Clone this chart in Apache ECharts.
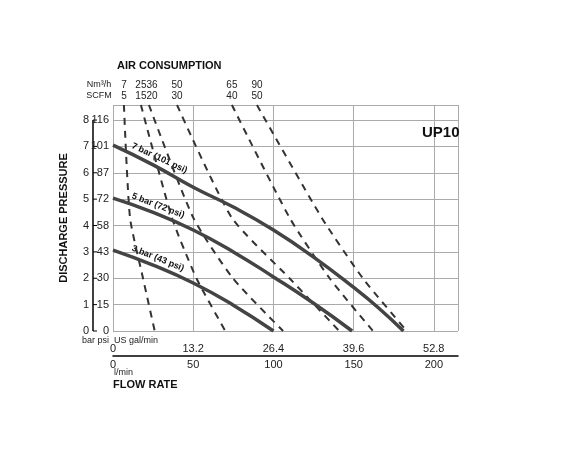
<!DOCTYPE html>
<html><head><meta charset="utf-8">
<script src="https://cdn.jsdelivr.net/npm/echarts@6/dist/echarts.min.js"></script>
<style>html,body{margin:0;padding:0;background:#fff}#c{width:573px;height:461px}</style>
</head><body><div id="c"></div>
<script>
const barTicks = [0,1,2,3,4,5,6,7,8];
const psiTicks = ['0','15','30','43','58','72','87','101','116'];
const flowLpm = [0,50,100,150,200];
const flowGpm = ['0','13.2','26.4','39.6','52.8'];
const curve7 = [[0,7.05],[25,6.3],[50,5.45],[75,4.7],[100,3.83],[125,2.8],[150,1.65],[165,0.9],[181,0]];
const curve5 = [[0,5.04],[25,4.5],[50,3.83],[75,3.0],[100,2.05],[125,1.05],[149,0]];
const curve3 = [[0,3.07],[25,2.5],[50,1.82],[75,0.98],[100,0]];
const curveNames = ['7 bar (101 psi)','5 bar (72 psi)','3 bar (43 psi)'];
const nm3h = ['7','25','36','50','65','90'];
const scfm = ['5','15','20','30','40','50'];
const air = [
 [[6.8,8.57],[10.6,4.3],[18.7,2],[26,0]],
 [[17.4,8.57],[36.7,4.3],[52,2],[70,0]],
 [[22.4,8.57],[50,4.3],[74.7,2],[106,0]],
 [[39.9,8.57],[74,4.3],[110,2],[141,0]],
 [[74.1,8.57],[110,4.3],[135,2],[162,0]],
 [[89.7,8.57],[130,4.3],[155.7,2],[183,0]]
];
const YMAX = 8.57, XMAX = 215;
const chart = echarts.init(document.getElementById('c'));
const F = 'Liberation Sans Narrow, Liberation Sans, Arial';
const series = [];
air.forEach(a => series.push({type:'line', data:a, smooth:0.2, symbol:'none', xAxisIndex:0, yAxisIndex:0,
  lineStyle:{color:'#333', width:2, type:[7,6]}}));
[curve7,curve5,curve3].forEach(c => series.push({type:'line', data:c, smooth:true, symbol:'none', xAxisIndex:0, yAxisIndex:0,
  lineStyle:{color:'#444', width:3.5}}));
chart.setOption({
  animation:false,
  grid:{left:113, right:115, top:105, bottom:130},
  xAxis:[
    {type:'value', min:0, max:XMAX, interval:50, position:'bottom', offset:25,
     axisLine:{onZero:false, lineStyle:{color:'#000', width:1.5}}, axisTick:{show:false},
     axisLabel:{margin:3, color:'#222', fontFamily:F, fontSize:11, showMaxLabel:false},
     splitLine:{show:true, lineStyle:{color:'#aaa', width:1}}},
    {type:'value', min:0, max:XMAX/3.7854, interval:13.2, position:'bottom', offset:0,
     axisLine:{show:false, onZero:false}, axisTick:{show:false}, splitLine:{show:false},
     axisLabel:{margin:12, color:'#222', fontFamily:F, fontSize:11, showMaxLabel:false,
       formatter:v=>{const i=Math.round(v/13.2);return flowGpm[i]||'';}}}
  ],
  yAxis:[
    {type:'value', min:0, max:YMAX, interval:1, position:'left', offset:0,
     axisLine:{show:false}, axisTick:{show:false},
     splitLine:{show:true, lineStyle:{color:'#aaa', width:1}},
     axisLabel:{margin:4, color:'#222', fontFamily:F, fontSize:11, showMaxLabel:false,
       formatter:v=>{const i=Math.round(v);return psiTicks[i]!==undefined && Math.abs(v-i)<1e-6?psiTicks[i]:'';}}},
    {type:'value', min:0, max:YMAX, interval:1, position:'left', offset:20,
     axisLine:{show:false}, axisTick:{show:false},
     splitLine:{show:false},
     axisLabel:{margin:4, color:'#222', fontFamily:F, fontSize:11, showMaxLabel:false,
       formatter:v=>String(barTicks[Math.round(v)])},
     name:'DISCHARGE PRESSURE', nameLocation:'middle', nameGap:24, nameRotate:90,
     nameTextStyle:{fontWeight:'bold', fontFamily:F, fontSize:11, color:'#111'}}
  ],
  series: series
});
const g = [];
const px = (x,y)=>chart.convertToPixel({xAxisIndex:0,yAxisIndex:0},[x,y]);
// bar axis line 0..8 with ticks
const p0 = px(0,0), p8 = px(0,8);
const ax = p0[0]-20;
g.push({type:'line', shape:{x1:ax,y1:p0[1],x2:ax,y2:p8[1]}, style:{stroke:'#000', lineWidth:1.5}});
barTicks.forEach(b=>{const p=px(0,b); g.push({type:'line', shape:{x1:ax,y1:p[1],x2:ax+4,y2:p[1]}, style:{stroke:'#000', lineWidth:1}});});
air.forEach((a,i)=>{
  const p = px(a[0][0], YMAX);
  g.push({type:'text', x:p[0]+(i===2?3:0), y:80, style:{text:nm3h[i], fill:'#222', font:'10px '+F, align:'center'}});
  g.push({type:'text', x:p[0]+(i===2?3:0), y:91, style:{text:scfm[i], fill:'#222', font:'10px '+F, align:'center'}});
});
g.push({type:'text', x:99, y:80, style:{text:'Nm³/h', fill:'#222', font:'9px '+F, align:'center'}});
g.push({type:'text', x:99, y:91, style:{text:'SCFM', fill:'#222', font:'9px '+F, align:'center'}});
g.push({type:'text', x:117, y:60, style:{text:'AIR CONSUMPTION', fill:'#111', font:'bold 11px '+F}});
g.push({type:'text', x:422, y:125, style:{text:'UP10', fill:'#111', font:'bold 15px '+F}});
g.push({type:'text', x:82, y:336, style:{text:'bar psi', fill:'#222', font:'9px '+F}});
g.push({type:'text', x:114, y:336, style:{text:'US gal/min', fill:'#222', font:'9px '+F}});
g.push({type:'text', x:114, y:368, style:{text:'l/min', fill:'#222', font:'9px '+F}});
g.push({type:'text', x:113, y:379, style:{text:'FLOW RATE', fill:'#111', font:'bold 11px '+F}});
[curve7,curve5,curve3].forEach((c,i)=>{
  const p = px(13, c[0][1] - (c[0][1]-c[1][1])*13/25);
  g.push({type:'text', x:p[0], y:p[1]-14, rotation:-[25,21,22][i]*Math.PI/180,
    style:{text:curveNames[i], fill:'#111', font:'bold 9px '+F}});
});
chart.setOption({graphic:g});
</script></body></html>
